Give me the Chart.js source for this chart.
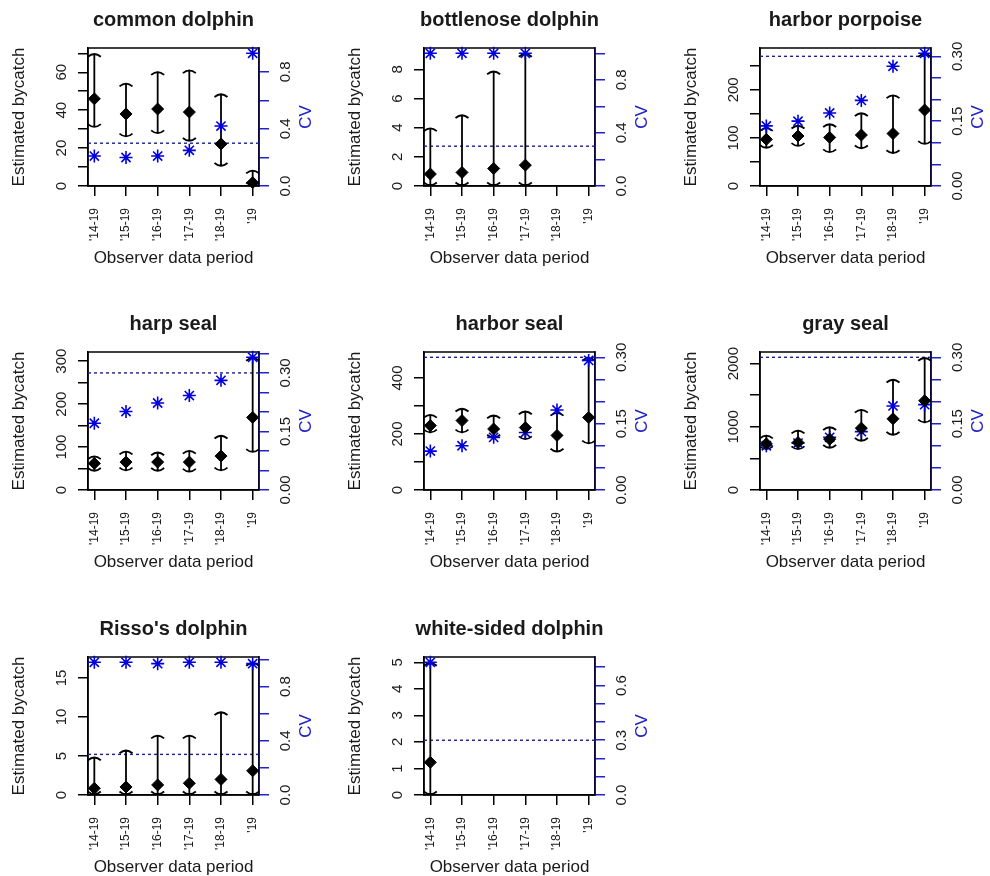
<!DOCTYPE html>
<html>
<head>
<meta charset="utf-8">
<title>Estimated bycatch and CV by observer data period</title>
<script src="https://cdn.jsdelivr.net/npm/chart.js@4.4.1/dist/chart.umd.min.js"></script>
<style>
  html, body { margin: 0; padding: 0; background: #fff; overflow: hidden; }
  body { width: 990px; height: 876px; position: relative; }
  .panel { position: absolute; }
</style>
</head>
<body>
<script>
const species = ['common dolphin', 'bottlenose dolphin', 'harbor porpoise', 'harp seal',
  'harbor seal', 'gray seal', "Risso's dolphin", 'white-sided dolphin'];
const periods = ["'14-19", "'15-19", "'16-19", "'17-19", "'18-19", "'19"];

// one row per species, one column per observer data period (null = no estimate)
const estimate = [
  [46, 38, 40.6, 39, 22.2, 1.8],
  [0.82, 0.93, 1.2, 1.43, null, null],
  [97, 104, 101, 106, 109, 158],
  [62, 65, 65, 65, 79, 169],
  [230, 248, 218, 223, 195, 259],
  [730, 751, 804, 979, 1127, 1413],
  [0.86, 1.03, 1.29, 1.5, 2.0, 3.1],
  [1.23, null, null, null, null, null]
];
const lower = [
  [30.8, 25.8, 27.5, 23.5, 10.3, 0],
  [0, 0, 0, 0, null, null],
  [78, 82, 69, 77, 67, 86],
  [43, 44, 43, 41, 44, 87],
  [203, 203, 185, 179, 135, 164],
  [635, 635, 656, 767, 862, 1058],
  [0, 0, 0, 0, 0, 0],
  [0, null, null, null, null, null]
];
const upper = [
  [70, 54.4, 60.5, 61.4, 48.8, 8.5],
  [4.0, 4.9, 7.9, 9.1, null, null],
  [122, 127, 130, 153, 190, 276],
  [80, 91, 89, 93, 128, 309],
  [271, 293, 269, 283, 278, 474],
  [873, 952, 1005, 1280, 1757, 2100],
  [4.9, 5.8, 7.7, 7.7, 10.7, 17.0],
  [5.0, null, null, null, null, null]
];
const cv = [
  [0.21, 0.2, 0.21, 0.25, 0.42, 0.93],
  [1.0, 1.0, 1.0, 1.0, null, null],
  [0.139, 0.15, 0.169, 0.198, 0.277, 0.307],
  [0.171, 0.201, 0.223, 0.242, 0.281, 0.34],
  [0.088, 0.1, 0.119, 0.13, 0.181, 0.293],
  [0.1, 0.106, 0.119, 0.132, 0.19, 0.193],
  [0.98, 0.98, 0.97, 0.98, 0.98, 0.97],
  [0.727, null, null, null, null, null]
];
const cvTarget = 0.3;

// tick spacing per panel, and which ticks carry a label
const yStep = [10, 2, 50, 50, 100, 500, 5, 1];
const yLabelEvery = [2, 1, 2, 2, 2, 2, 1, 1];
const cvStep = [0.2, 0.2, 0.05, 0.05, 0.05, 0.05, 0.2, 0.1];
const cvLabelEvery = [2, 2, 3, 3, 3, 3, 2, 3];

const FONT = "'Liberation Sans', Arial, sans-serif";
const INK = '#1a1a1a';
const BLUE = '#0000dd';
const BLUE_AXIS = '#2323c8';
const BLUE_REF = '#1f1f8f';

Chart.defaults.font.family = FONT;
Chart.defaults.color = INK;

const colLeft = [0, 336, 672];
const rowTop = [0, 304, 609];

const measure = document.createElement('canvas').getContext('2d');
function widest(labels, size) {
  measure.font = size + 'px ' + FONT;
  return Math.max(...labels.map(t => measure.measureText(t).width));
}

function tickValues(step, max) {
  const out = [];
  for (let i = 0; i * step <= max + 1e-9; i++) out.push(+(i * step).toFixed(6));
  return out;
}

function points(arr) {
  return arr.map((v, i) => v == null ? null : { x: i + 1, y: v }).filter(Boolean);
}

// box, dotted CV reference line and error bars with arrow-style caps
const errorBars = {
  id: 'errorBars',
  beforeDatasetsDraw(chart, args, opts) {
    const { ctx, chartArea: a, scales } = chart;
    const k = opts.panel;
    ctx.save();
    ctx.strokeStyle = '#000';
    ctx.lineWidth = 1.5;
    ctx.strokeRect(a.left, a.top, a.right - a.left, a.bottom - a.top);

    const yRef = scales.cv.getPixelForValue(cvTarget);
    ctx.strokeStyle = BLUE_REF;
    ctx.lineWidth = 1.4;
    ctx.setLineDash([3, 3]);
    ctx.beginPath();
    ctx.moveTo(a.left, yRef);
    ctx.lineTo(a.right, yRef);
    ctx.stroke();
    ctx.setLineDash([]);

    ctx.strokeStyle = '#000';
    ctx.lineWidth = 1.8;
    upper[k].forEach((hi, i) => {
      const lo = lower[k][i];
      if (hi == null || lo == null) return;
      const px = scales.x.getPixelForValue(i + 1);
      const top = scales.y.getPixelForValue(hi);
      const bot = scales.y.getPixelForValue(lo);
      ctx.beginPath();
      ctx.moveTo(px, bot);
      ctx.lineTo(px, top);
      ctx.moveTo(px - 6.5, top + 3.5);
      ctx.quadraticCurveTo(px, top - 2, px + 6.5, top + 3.5);
      ctx.moveTo(px - 6.5, bot - 3.5);
      ctx.quadraticCurveTo(px, bot + 2, px + 6.5, bot - 3.5);
      ctx.stroke();
    });
    ctx.restore();
  }
};

// right-hand axis title, reading bottom to top like the left one
const cvTitle = {
  id: 'cvTitle',
  afterDraw(chart, args, opts) {
    const { ctx, chartArea: a } = chart;
    ctx.save();
    ctx.translate(a.right + 47, (a.top + a.bottom) / 2);
    ctx.rotate(-Math.PI / 2);
    ctx.fillStyle = BLUE_AXIS;
    ctx.font = '17px ' + FONT;
    ctx.textAlign = 'center';
    ctx.textBaseline = 'middle';
    ctx.fillText(opts.text, 0, 0);
    ctx.restore();
  }
};

function makePanel(k) {
  const wrap = document.createElement('div');
  wrap.className = 'panel';
  wrap.style.left = colLeft[k % 3] + 'px';
  wrap.style.top = rowTop[Math.floor(k / 3)] + 'px';
  const canvas = document.createElement('canvas');
  canvas.width = 347;
  canvas.height = 270;
  wrap.appendChild(canvas);
  document.body.appendChild(wrap);

  const yMax = 1.04 * Math.max(...upper[k].filter(v => v != null));
  const cvMax = 1.04 * Math.max(cvTarget, ...cv[k].filter(v => v != null));
  const yTicks = tickValues(yStep[k], yMax);
  const cvTicks = tickValues(cvStep[k], cvMax);
  const cvDigits = cvStep[k] < 0.1 ? 2 : 1;
  const yLabels = yTicks.map((v, i) => i % yLabelEvery[k] ? '' : String(v));
  const cvLabels = cvTicks.map((v, i) => i % cvLabelEvery[k] ? '' : v.toFixed(cvDigits));

  const tickGrid = color => ({ drawOnChartArea: false, tickLength: 10, color: color, lineWidth: 1.5 });

  new Chart(canvas, {
    type: 'scatter',
    data: {
      datasets: [
        {
          label: 'Estimated bycatch',
          yAxisID: 'y',
          data: points(estimate[k]),
          pointStyle: 'rectRot',
          pointRadius: 6,
          backgroundColor: '#000',
          borderColor: '#000',
          borderWidth: 1,
          clip: false
        },
        {
          label: 'CV',
          yAxisID: 'cv',
          data: points(cv[k]),
          pointStyle: 'star',
          pointRadius: 6.5,
          borderColor: BLUE,
          backgroundColor: BLUE,
          borderWidth: 1.6,
          clip: false
        }
      ]
    },
    options: {
      responsive: false,
      animation: false,
      events: [],
      layout: { padding: 0 },
      plugins: {
        legend: { display: false },
        tooltip: { enabled: false },
        title: {
          display: true,
          text: species[k],
          color: INK,
          font: { size: 20, weight: 'bold' },
          padding: { top: 8, bottom: 16 }
        },
        errorBars: { panel: k },
        cvTitle: { text: 'CV' }
      },
      scales: {
        x: {
          type: 'linear',
          min: 0.8,
          max: 6.2,
          afterBuildTicks: s => { s.ticks = periods.map((p, i) => ({ value: i + 1 })); },
          afterFit: s => { s.height = 84; },
          ticks: {
            autoSkip: false, minRotation: 90, maxRotation: 90, padding: 12,
            font: { size: 12 }, color: INK,
            callback: (v, i) => periods[i]
          },
          grid: tickGrid('#000'),
          border: { color: '#000', width: 1.5 },
          title: {
            display: true, text: 'Observer data period', color: INK,
            font: { size: 17 }, padding: { top: 0, bottom: 1 }
          }
        },
        y: {
          type: 'linear',
          position: 'left',
          min: 0,
          max: yMax,
          afterBuildTicks: s => { s.ticks = yTicks.map(v => ({ value: v })); },
          afterFit: s => { s.width = 88; },
          ticks: {
            autoSkip: false, minRotation: 90, maxRotation: 90, crossAlign: 'center',
            padding: 16.5 - widest(yLabels, 15) / 2,
            font: { size: 15 }, color: INK,
            callback: (v, i) => yLabels[i]
          },
          grid: tickGrid('#000'),
          border: { color: '#000', width: 1.5 },
          title: {
            display: true, text: 'Estimated bycatch', color: INK,
            font: { size: 17 }, padding: { top: 9, bottom: 0 }
          }
        },
        cv: {
          type: 'linear',
          position: 'right',
          min: 0,
          max: cvMax,
          afterBuildTicks: s => { s.ticks = cvTicks.map(v => ({ value: v })); },
          afterFit: s => { s.width = 88; },
          ticks: {
            autoSkip: false, minRotation: 90, maxRotation: 90, crossAlign: 'center',
            padding: 17 - widest(cvLabels, 15) / 2,
            font: { size: 15 }, color: INK,
            callback: (v, i) => cvLabels[i]
          },
          grid: tickGrid(BLUE_AXIS),
          border: { color: BLUE_AXIS, width: 1.5 }
        }
      }
    },
    plugins: [errorBars, cvTitle]
  });
}

species.forEach((s, k) => makePanel(k));
</script>
</body>
</html>
